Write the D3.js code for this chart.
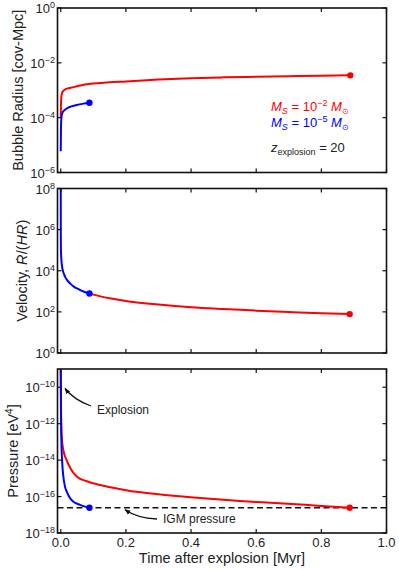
<!DOCTYPE html>
<html>
<head>
<meta charset="utf-8">
<script src="https://cdn.jsdelivr.net/npm/d3@7"></script>
<style>
  body { margin: 0; background: #fff; }
  text { font-family: "Liberation Sans", Arial, sans-serif; fill: #222; }
</style>
</head>
<body>
<div id="chart"></div>
<script>
// data: [time in Myr, value]
const timeTicks = [0, 0.2, 0.4, 0.6, 0.8, 1.0];

const radiusRed = [[0.0,1.0e-4],[0.0005,2.5e-4],[0.001,4.0e-4],[0.002,6.0e-4],[0.004,8.0e-4],[0.008,9.5e-4],
    [0.015,1.1e-3],[0.028,1.2e-3],[0.05,1.4e-3],[0.07,1.6e-3],[0.1,1.75e-3],[0.15,1.95e-3],[0.2,2.1e-3],
    [0.3,2.45e-3],[0.4,2.75e-3],[0.5,2.95e-3],[0.6,3.1e-3],[0.7,3.25e-3],[0.8,3.4e-3],[0.889,3.5e-3]];
const radiusBlue = [[0.0,6.0e-6],[0.0005,3e-5],[0.001,6e-5],[0.002,1.0e-4],[0.005,1.5e-4],[0.013,1.95e-4],
    [0.025,2.4e-4],[0.049,2.9e-4],[0.07,3.25e-4],[0.088,3.5e-4]];

const velocityRed = [[0.088,780],[0.1,690],[0.15,460],[0.2,340],[0.3,230],[0.4,170],[0.5,138],
    [0.6,115],[0.7,98],[0.8,85],[0.887,78]];
const velocityBlue = [[0.0,1.6e8],[0.0001,6.3e5],[0.0005,1.26e5],[0.001,6.3e4],[0.002,3.2e4],[0.004,1.6e4],
    [0.007,9.5e3],[0.01,6.8e3],[0.015,4.5e3],[0.02,3.4e3],[0.03,2.3e3],[0.04,1.7e3],[0.05,1.38e3],
    [0.06,1.15e3],[0.07,980],[0.088,780]];

const pressureRed = [[0.0,1e-9],[0.001,3.2e-12],[0.003,2.0e-13],[0.008,3.5e-14],[0.018,1.0e-14],[0.03,3.5e-15],
    [0.049,1.26e-15],[0.08,6.9e-16],[0.121,4.3e-16],[0.2,2.24e-16],[0.3,1.32e-16],[0.428,8.3e-17],
    [0.55,5.75e-17],[0.633,4.7e-17],[0.75,3.5e-17],[0.838,2.75e-17],[0.887,2.45e-17]];
const pressureBlue = [[0.0,1e-9],[0.0005,1e-11],[0.002,1e-13],[0.004,1e-14],[0.008,1.26e-15],[0.013,3.5e-16],
    [0.02,1.6e-16],[0.029,7.9e-17],[0.04,5.0e-17],[0.059,3.5e-17],[0.075,2.8e-17],[0.088,2.45e-17]];

const igmPressure = 2.45e-17;

const radiusTicks = [0, -2, -4, -6];
const velocityTicks = [8, 6, 4, 2, 0];
const pressureTicks = [-10, -12, -14, -16, -18];

var WIDTH = 399, HEIGHT = 570,
    LEFT = 57.5, RIGHT = 386.5;

var svg = d3.select('#chart').append('svg')
    .attr('width', WIDTH).attr('height', HEIGHT);

var defs = svg.append('defs');
defs.append('marker')
    .attr('id', 'arrow')
    .attr('viewBox', '0 0 10 10')
    .attr('refX', 9).attr('refY', 5)
    .attr('markerWidth', 6).attr('markerHeight', 6)
    .attr('markerUnits', 'userSpaceOnUse')
    .attr('orient', 'auto')
    .append('path').attr('d', 'M0,1 L10,5 L0,9 z').attr('fill', '#111');

var x = d3.scaleLinear().domain([-0.01, 1.0]).range([LEFT, RIGHT]);

var panels = [
    { id: 'r', top: 8, bottom: 172.5, domain: [1e-6, 1e0], ticks: radiusTicks,
      series: [[radiusRed, 'red'], [radiusBlue, 'blue']], labelX: 18 },
    { id: 'v', top: 188.5, bottom: 353, domain: [1e0, 1e8], ticks: velocityTicks,
      series: [[velocityRed, 'red'], [velocityBlue, 'blue']], labelX: 22 },
    { id: 'p', top: 369, bottom: 533, domain: [1e-18, 1e-9], ticks: pressureTicks,
      series: [[pressureRed, 'red'], [pressureBlue, 'blue']], labelX: 13 }
];

var COLORS = { red: '#ff0000', blue: '#0000ff' };

function powLabel(sel, e) {
    sel.append('tspan').text('10');
    sel.append('tspan').attr('dy', -5).attr('font-size', 9)
        .text(e < 0 ? '\u2212' + (-e) : e);
}

panels.forEach(function(p) {
    var y = d3.scaleLog().domain(p.domain).range([p.bottom, p.top]);
    p.y = y;
    var g = svg.append('g');

    defs.append('clipPath').attr('id', 'clip-' + p.id)
        .append('rect').attr('x', LEFT).attr('y', p.top)
        .attr('width', RIGHT - LEFT).attr('height', p.bottom - p.top);

    var line = d3.line()
        .x(function(d) { return x(d[0]); })
        .y(function(d) { return y(d[1]); })
        .curve(d3.curveMonotoneX);

    var plot = g.append('g').attr('clip-path', 'url(#clip-' + p.id + ')');

    if (p.id === 'p') {
        plot.append('line')
            .attr('x1', LEFT).attr('x2', RIGHT)
            .attr('y1', y(igmPressure)).attr('y2', y(igmPressure))
            .attr('stroke', '#111').attr('stroke-width', 1.5)
            .attr('stroke-dasharray', '6,3.5');
    }

    p.series.forEach(function(s) {
        plot.append('path').datum(s[0])
            .attr('d', line)
            .attr('fill', 'none')
            .attr('stroke', COLORS[s[1]])
            .attr('stroke-width', 2);
        var last = s[0][s[0].length - 1];
        g.append('circle')
            .attr('cx', x(last[0])).attr('cy', y(last[1]))
            .attr('r', 3.2).attr('fill', COLORS[s[1]]);
    });

    // frame
    g.append('rect')
        .attr('x', LEFT).attr('y', p.top)
        .attr('width', RIGHT - LEFT).attr('height', p.bottom - p.top)
        .attr('fill', 'none').attr('stroke', '#111').attr('stroke-width', 1.6);

    // inward ticks on all sides
    var ticks = g.append('g').attr('stroke', '#111').attr('stroke-width', 1.2);
    timeTicks.forEach(function(t) {
        ticks.append('line').attr('x1', x(t)).attr('x2', x(t))
            .attr('y1', p.bottom).attr('y2', p.bottom - 4);
        ticks.append('line').attr('x1', x(t)).attr('x2', x(t))
            .attr('y1', p.top).attr('y2', p.top + 4);
    });
    p.ticks.forEach(function(e) {
        var yy = y(Math.pow(10, e));
        ticks.append('line').attr('x1', LEFT).attr('x2', LEFT + 4)
            .attr('y1', yy).attr('y2', yy);
        ticks.append('line').attr('x1', RIGHT).attr('x2', RIGHT - 4)
            .attr('y1', yy).attr('y2', yy);
        g.append('text')
            .attr('x', 55).attr('y', yy + 5)
            .attr('text-anchor', 'end')
            .attr('font-size', 13)
            .call(powLabel, e);
    });
});

// y axis titles
function yTitle(p, build) {
    var t = svg.append('text')
        .attr('transform', 'translate(' + (p.labelX + 5) + ',' + ((p.top + p.bottom) / 2) + ') rotate(-90)')
        .attr('text-anchor', 'middle')
        .attr('font-size', 14.5);
    build(t);
}
yTitle(panels[0], function(t) { t.text('Bubble Radius [cov-Mpc]'); });
yTitle(panels[1], function(t) {
    t.append('tspan').text('Velocity, ');
    t.append('tspan').attr('font-style', 'italic').text('R');
    t.append('tspan').attr('dx', -6.5).text('\u02D9');
    t.append('tspan').attr('dx', 1.7).text('/(');
    t.append('tspan').attr('font-style', 'italic').text('HR');
    t.append('tspan').text(')');
});
yTitle(panels[2], function(t) {
    t.append('tspan').text('Pressure [eV');
    t.append('tspan').attr('dy', -5).attr('font-size', 10).text('4');
    t.append('tspan').attr('dy', 5).text(']');
});

// x axis tick labels and title
var pb = panels[2];
timeTicks.forEach(function(t) {
    svg.append('text')
        .attr('x', x(t)).attr('y', pb.bottom + 14)
        .attr('text-anchor', 'middle')
        .attr('font-size', 13)
        .text(t.toFixed(1));
});
svg.append('text')
    .attr('x', (LEFT + RIGHT) / 2).attr('y', 563)
    .attr('text-anchor', 'middle')
    .attr('font-size', 14.5)
    .text('Time after explosion [Myr]');

// legend
function massLabel(color, e, yy) {
    var t = svg.append('text').attr('x', 271).attr('y', yy)
        .attr('font-size', 13).style('fill', color);
    t.append('tspan').attr('font-style', 'italic').text('M');
    t.append('tspan').attr('font-style', 'italic').attr('font-size', 9).attr('dy', 3).text('S');
    t.append('tspan').attr('dy', -3).text(' = 10');
    t.append('tspan').attr('font-size', 9).attr('dy', -5).text('\u2212' + e);
    t.append('tspan').attr('dy', 5).attr('font-style', 'italic').text(' M');
    t.append('tspan').attr('font-size', 8).attr('dy', 3).text('\u2299');
}
massLabel(COLORS.red, 2, 111);
massLabel(COLORS.blue, 5, 127);
var zt = svg.append('text').attr('x', 271).attr('y', 152).attr('font-size', 13);
zt.append('tspan').attr('font-style', 'italic').text('z');
zt.append('tspan').attr('font-size', 9).attr('dy', 3).text('explosion');
zt.append('tspan').attr('dy', -3).text(' = 20');

// annotations
var py = pb.y;
svg.append('path')
    .attr('d', 'M91,406 Q74,400 65,388.5')
    .attr('fill', 'none').attr('stroke', '#111').attr('stroke-width', 1.3)
    .attr('marker-end', 'url(#arrow)');
svg.append('text').attr('x', 97).attr('y', 414).attr('font-size', 12).text('Explosion');

svg.append('path')
    .attr('d', 'M157,519 Q137,518 125,' + (py(igmPressure) + 2))
    .attr('fill', 'none').attr('stroke', '#111').attr('stroke-width', 1.3)
    .attr('marker-end', 'url(#arrow)');
svg.append('text').attr('x', 163).attr('y', 523).attr('font-size', 12).text('IGM pressure');
</script>
</body>
</html>
